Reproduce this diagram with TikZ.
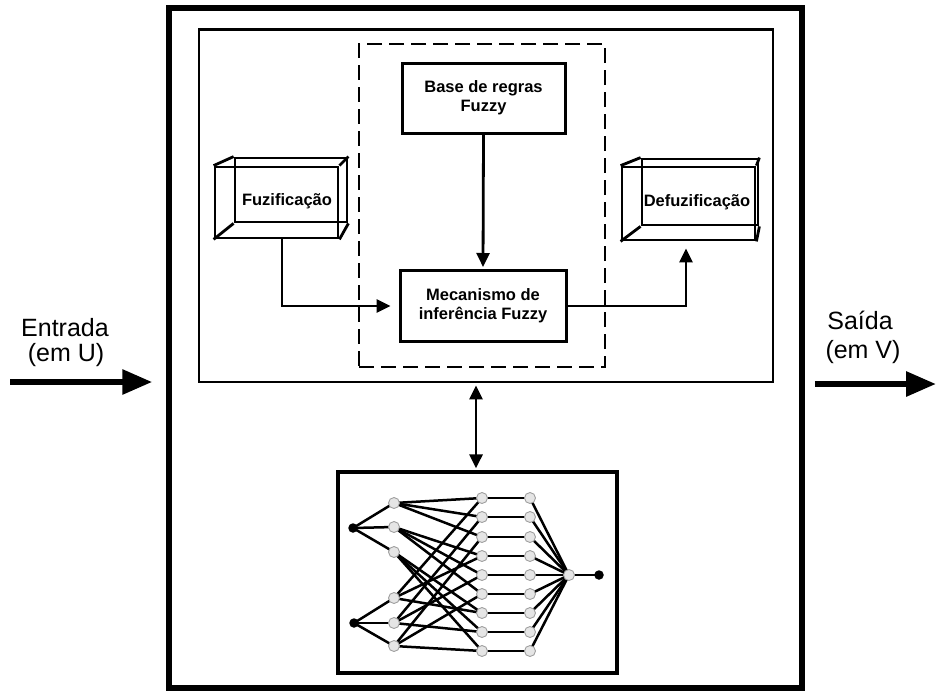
\documentclass[tikz,border=0pt]{standalone}
\usepackage{fontspec}
\setmainfont{Liberation Sans}
\usetikzlibrary{arrows.meta,calc}
\begin{document}
\begin{tikzpicture}[x=1pt,y=-1pt,
  frame/.style={draw, line width=5.5pt, inner sep=0pt},
  panel/.style={draw, line width=2.8pt, inner sep=0pt},
  dashbox/.style={draw, line width=2.8pt, dash pattern=on 15pt off 7pt, inner sep=0pt},
  blockbox/.style={draw, line width=3pt, inner sep=0pt, align=center,
     font=\bfseries\fontsize{16.5}{19}\selectfont},
  cube/.style={draw, line width=2.8pt, inner sep=0pt},
  cubeedge/.style={line width=2.8pt},
  blbl/.style={font=\bfseries\fontsize{16.5}{19}\selectfont, inner sep=0pt},
  conn/.style={line width=2.8pt, -{Triangle[length=14pt,width=13pt]}},
  dconn/.style={line width=2.8pt, {Triangle[length=14pt,width=13pt]}-{Triangle[length=14pt,width=13pt]}},
  bigarrow/.style={line width=6pt, -{Triangle[length=30pt,width=24pt]}},
  lbl/.style={font=\fontsize{25}{28}\selectfont, inner sep=0pt},
  nnedge/.style={line width=2.5pt, black},
  gnode/.style={circle, minimum size=11pt, inner sep=0pt, fill=gray!20, draw=gray!75, line width=0.9pt},
  bnode/.style={circle, minimum size=9.5pt, inner sep=0pt, fill=black}
]
\useasboundingbox (0,0) rectangle (936,691);

% frames
\node[frame, minimum width=633pt, minimum height=680pt] (frame) at (485.5,348) {};
\node[panel, minimum width=574pt, minimum height=352.5pt] (panel) at (486,205.75) {};
\node[dashbox, minimum width=246pt, minimum height=323pt] (dash) at (482,205.5) {};

% blocks
\node[blockbox, minimum width=163pt, minimum height=70pt] (base) at (483.5,98) {Base de regras\\Fuzzy};
\node[blockbox, minimum width=166pt, minimum height=71pt] (mec) at (483,306) {Mecanismo de\\inferência Fuzzy};

% Fuzificacao cube
\node[cube, minimum width=112pt, minimum height=64pt] (fuzb) at (291,190) {};
\node[cube, minimum width=123pt, minimum height=71pt] (fuzf) at (276.5,202.5) {};
\draw[cubeedge] (fuzf.north west) -- (fuzb.north west);
\draw[cubeedge] (fuzf.north east) -- (fuzb.north east);
\draw[cubeedge] (fuzf.south west) -- (fuzb.south west);
\draw[cubeedge] (fuzf.south east) -- (fuzb.south east);
\node[blbl] (fuztxt) at (287,201) {Fuzificação};

% Defuzificacao cube
\node[cube, minimum width=116pt, minimum height=66pt] (defb) at (700,192) {};
\node[cube, minimum width=133pt, minimum height=73pt] (deff) at (688.5,203.5) {};
\draw[cubeedge] (deff.north west) -- (defb.north west);
\draw[cubeedge] (deff.north east) -- (defb.north east);
\draw[cubeedge] (deff.south west) -- (defb.south west);
\draw[cubeedge] (deff.south east) -- (defb.south east);
\node[blbl] (deftxt) at (697,202) {Defuzificação};

% connectors
\draw[conn, shorten >=8pt] ([xshift=5.5pt]fuzf.south) |- (mec.west);
\draw[conn, shorten >=2pt] (base.south) -- (mec.north);
\draw[conn, shorten >=7pt] (mec.east) -| ([xshift=-2.5pt]deff.south);

% neural network box
\node[panel, line width=3.2pt, minimum width=279pt, minimum height=201pt] (nn) at (477.5,572.5) {};
\draw[dconn, shorten <=2pt, shorten >=2pt] ([xshift=-1.5pt]nn.north |- panel.south) -- ([xshift=-1.5pt]nn.north);

% NN coordinates
\foreach \y [count=\i] in {503,527,552} \coordinate (cu\i) at (394,\y);
\foreach \y [count=\i] in {598,623,646} \coordinate (cl\i) at (394,\y);
\foreach \y [count=\i] in {498,517,537,556,575,594,613,632,651} {
  \coordinate (ch\i) at (482,\y);
  \coordinate (cn\i) at (530,\y);
}
\coordinate (cx1) at (353,528);
\coordinate (cx2) at (354,623);
\coordinate (co) at (569,575);
\coordinate (cy) at (599,575);

% NN edges
\foreach \i in {1,2,3} {
  \draw[nnedge] (cx1) -- (cu\i);
  \draw[nnedge] (cx2) -- (cl\i);
}
\foreach \i in {1,2,3} {
  \foreach \j in {1,2,3} {
    \pgfmathtruncatemacro\k{3*(\i-1)+\j}
    \draw[nnedge] (cu\i) -- (ch\k);
    \draw[nnedge] (cl\j) -- (ch\k);
  }
}
\foreach \i in {1,...,9} {
  \draw[nnedge] (ch\i) -- (cn\i);
  \draw[nnedge] (cn\i) -- (co);
}
\draw[nnedge] (co) -- (cy);

% NN nodes
\foreach \i in {1,2,3} {
  \node[gnode] (u\i) at (cu\i) {};
  \node[gnode] (l\i) at (cl\i) {};
}
\foreach \i in {1,...,9} {
  \node[gnode] (h\i) at (ch\i) {};
  \node[gnode] (n\i) at (cn\i) {};
}
\node[gnode] (o) at (co) {};
\node[bnode] (x1) at (cx1) {};
\node[bnode] (x2) at (cx2) {};
\node[bnode] (y) at (cy) {};

% input / output
\node[lbl] (entrada) at (65,328) {Entrada};
\node[lbl] (emu) at (66,355) {(em U)};
\coordinate (inS) at (10,382);
\draw[bigarrow, shorten >=14pt] (inS) -- (inS -| frame.west);

\node[lbl] (saida) at (860,320) {Saída};
\node[lbl] (emv) at (863,352) {(em V)};
\coordinate (outE) at (936,384);
\draw[bigarrow, shorten <=10pt] (frame.east |- outE) -- (outE);
\end{tikzpicture}
\end{document}
